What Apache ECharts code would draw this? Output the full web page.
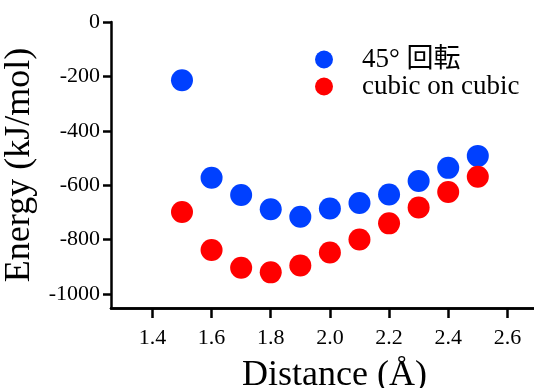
<!DOCTYPE html>
<html>
<head>
<meta charset="utf-8">
<script src="https://cdn.jsdelivr.net/npm/echarts@6/dist/echarts.min.js"></script>
<style>
	html, body { margin: 0; padding: 0; background: #fff; }
	#chart { width: 534px; height: 388px; }
</style>
</head>
<body>
<div id="chart"></div>
<script>
// 距离 (Å)
var distances = [1.5, 1.6, 1.7, 1.8, 1.9, 2.0, 2.1, 2.2, 2.3, 2.4, 2.5];
// 45° 回転
var rotatedEnergy = [-214, -572, -636, -688, -716, -685, -665, -634, -584, -536, -492];
// cubic on cubic
var cubicEnergy = [-698, -838, -903, -920, -895, -847, -799, -740, -682, -625, -569];
// 刻度
var xTicks = [1.4, 1.6, 1.8, 2.0, 2.2, 2.4, 2.6];
var yTicks = [0, -200, -400, -600, -800, -1000];
var seriesNames = ['45° 回転', 'cubic on cubic'];
var colors = ['#0040ff', '#ff0000'];

var fontFamily = "'Liberation Serif', 'Noto Sans CJK JP', serif";
var axisStyle = { color: '#000', width: 2.5 };
var gridRect = { left: 111, right: 0, top: 22, bottom: 80, outerBoundsMode: 'none' };

function pairs(xs, ys) {
	var out = [];
	for (var i = 0; i < xs.length; i++) {
		out.push([xs[i], ys[i]]);
	}
	return out;
}

var myChart = echarts.init(document.getElementById('chart'));

var option = {
	animation: false,
	color: colors,
	// 第二个grid只用来画X轴刻度
	grid: [gridRect, gridRect],
	legend: {
		orient: 'vertical',
		left: 310,
		top: 41,
		itemWidth: 18,
		itemHeight: 18,
		itemGap: 0,
		icon: 'circle',
		textStyle: { fontFamily: fontFamily, fontSize: 27, color: '#000', padding: [0, 0, 0, 24] },
		data: seriesNames
	},
	xAxis: [{
		type: 'value',
		gridIndex: 0,
		min: 1.26,
		max: 2.69,
		name: 'Distance (Å)',
		nameLocation: 'middle',
		nameGap: 50,
		nameTextStyle: { fontFamily: fontFamily, fontSize: 36, color: '#000', padding: [0, 0, 0, 24] },
		splitLine: { show: false },
		axisLine: { show: true, onZero: false, lineStyle: axisStyle },
		axisTick: { show: true, length: 10, customValues: xTicks, lineStyle: axisStyle },
		axisLabel: {
			customValues: xTicks,
			margin: 19,
			fontFamily: fontFamily,
			fontSize: 22,
			color: '#000',
			formatter: function (v) { return v.toFixed(1); }
		}
	}, {
		type: 'value',
		gridIndex: 1,
		min: 1.26,
		max: 2.69,
		splitLine: { show: true, lineStyle: { color: 'rgba(0,0,0,0)' } },
		axisLine: { onZero: false, lineStyle: axisStyle },
		axisTick: { show: true, length: 10, customValues: xTicks, lineStyle: axisStyle },
		axisLabel: { customValues: xTicks, color: 'rgba(0,0,0,0)' }
	}],
	yAxis: [{
		type: 'value',
		gridIndex: 0,
		min: -1051,
		max: 0,
		name: 'Energy (kJ/mol)',
		nameLocation: 'middle',
		nameGap: 68,
		nameTextStyle: { fontFamily: fontFamily, fontSize: 36, color: '#000' },
		splitLine: { show: false },
		axisLine: { show: true, onZero: false, lineStyle: axisStyle },
		axisTick: { show: true, length: 8, customValues: yTicks, lineStyle: axisStyle },
		axisLabel: {
			customValues: yTicks,
			margin: 11,
			fontFamily: fontFamily,
			fontSize: 22,
			color: '#000',
			formatter: function (v) { return String(v); }
		}
	}, {
		type: 'value',
		gridIndex: 1,
		min: -1051,
		max: 0,
		show: false
	}],
	series: [{
		name: seriesNames[0],
		type: 'scatter',
		symbolSize: 22,
		itemStyle: { opacity: 1 },
		data: pairs(distances, rotatedEnergy)
	}, {
		name: seriesNames[1],
		type: 'scatter',
		symbolSize: 22,
		itemStyle: { opacity: 1 },
		data: pairs(distances, cubicEnergy)
	}]
};

myChart.setOption(option);
</script>
</body>
</html>
